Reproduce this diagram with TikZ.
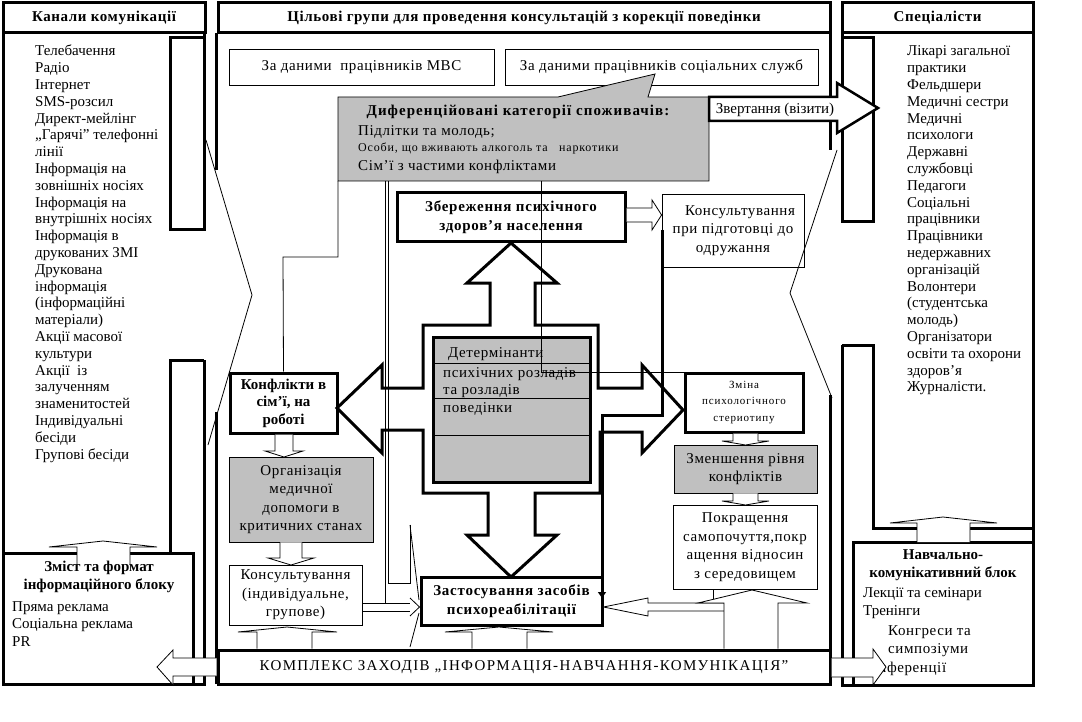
\documentclass[tikz,border=0pt]{standalone}
\usepackage{fontspec}
\setmainfont{Liberation Serif}
\usetikzlibrary{arrows.meta}
\definecolor{gry}{RGB}{192,192,192}
\newcommand\fz{\fontsize{15}{16.8}\selectfont}
\newcommand\fzw{\fontsize{15}{16.8}\selectfont\addfontfeatures{LetterSpace=4}}
\newcommand\fzm{\fontsize{15}{18.5}\selectfont\addfontfeatures{LetterSpace=4}}
\newcommand\fzh{\fontsize{15}{17.5}\selectfont\bfseries\addfontfeatures{LetterSpace=4}}
\newcommand\fzb{\fontsize{15}{19}\selectfont\bfseries\addfontfeatures{LetterSpace=5}}
\newcommand\fzk{\fontsize{15}{17.5}\selectfont\bfseries}
\newcommand\fzc{\fontsize{15}{17.5}\selectfont\bfseries\addfontfeatures{LetterSpace=7}}
\newcommand\fzs{\fontsize{12}{15}\selectfont\addfontfeatures{LetterSpace=7}}
\newcommand\fzt{\fontsize{11}{16.5}\selectfont\addfontfeatures{LetterSpace=8}}
\newcommand\fzK{\fontsize{15}{17}\selectfont\addfontfeatures{LetterSpace=9}}
\tikzset{
  thk/.style={line width=3pt},
  thn/.style={line width=0.8pt},
  box/.style={draw, line width=0.8pt, inner sep=0pt, align=center, font=\fzm},
  tbox/.style={box, line width=3pt},
  txt/.style={inner sep=0pt, align=left, font=\fz},
  btxt/.style={inner sep=0pt, align=center, font=\fzk},
}
\begin{document}
\begin{tikzpicture}[x=1pt,y=-1pt]
\useasboundingbox (0,0) rectangle (1082,722);
% ---------- left panel
\draw[thk] (204,230)--(204,33)--(3,33)--(3,684)--(204,684)--(204,360);
\draw[thk] (170,38) rectangle (204,230);
\draw[thk] (204,360)--(170,360)--(170,553);
\draw[thn] (206,140)--(252,295)--(208,445);
% ---------- middle panel borders
\draw[thk] (216,33)--(216,170);
\draw[thk] (216,412)--(216,684);
\draw[thk] (830,33)--(830,150);
\draw[thk] (830,395)--(830,684);
\draw[thn] (837,150)--(790,293)--(832,398);
% ---------- right panel
\draw[thk] (842,222)--(842,33)--(1033,33)--(1033,685)--(842,685)--(842,345);
\draw[thk] (842,38) rectangle (873,222);
\draw[thk] (842,345)--(873,345)--(873,528)--(1033,528);
% ---------- headers
\node[tbox, font=\fzh, minimum width=202, minimum height=30] (hL) at (104,18) {Канали комунікації};
\node[tbox, font=\fzh, minimum width=612, minimum height=30] (hM) at (524,18) {Цільові групи для проведення консультацій з корекції поведінки};
\node[tbox, font=\fzh, minimum width=191, minimum height=30] (hR) at (937.5,18) {Спеціалісти};
% ---------- left list
\node[txt, anchor=north west] (lcol) at (35,44) {\strut Телебачення\\ Радіо\\ Інтернет\\ SMS-розсил\\ Директ-мейлінг\\ „Гарячі” телефонні\\ лінії\\ Інформація на\\ зовнішніх носіях\\ Інформація на\\ внутрішніх носіях\\ Інформація в\\ друкованих ЗМІ\\ Друкована\\ інформація\\ (інформаційні\\ матеріали)\\ Акції масової\\ культури\\ Акції~ із\\ залученням\\ знаменитостей\\ Індивідуальні\\ бесіди\\ Групові бесіди};
% ---------- right list
\node[txt, anchor=north west] (rcol) at (907,44) {\strut Лікарі загальної\\ практики\\ Фельдшери\\ Медичні сестри\\ Медичні\\ психологи\\ Державні\\ службовці\\ Педагоги\\ Соціальні\\ працівники\\ Працівники\\ недержавних\\ організацій\\ Волонтери\\ (студентська\\ молодь)\\ Організатори\\ освіти та охорони\\ здоров’я\\ Журналісти.};
% ---------- bottom left box
\node[tbox, minimum width=190, minimum height=131] (zmist) at (98,618.5) {};
\draw[thn, fill=white] (77,565)--(77,547)--(49,547)--(103,541)--(157,547)--(130,547)--(130,565);
\node[btxt] (zmistT) at (99,577) {Зміст та формат\\ інформаційного блоку};
\node[txt, anchor=north west, font=\fontsize{15}{17.5}\selectfont] (zmistL) at (12,599) {\strut Пряма реклама\\ Соціальна реклама\\ PR};
% ---------- bottom right box
\node[tbox, minimum width=180, minimum height=143] (navch) at (943,613.5) {};
\draw[thn, fill=white] (917,542)--(917,523)--(890,523)--(943,517)--(997,523)--(970,523)--(970,542);
\node[btxt] (navchT) at (943,565) {Навчально-\\ комунікативний блок};
\node[txt, anchor=north west, font=\fontsize{15}{18}\selectfont] (navchL) at (863,585) {\strut Лекції та семінари\\ Тренінги};
\node[txt, anchor=north west, font=\fzm] (navchL2) at (888,622) {\strut Конгреси та\\ симпозіуми};
\node[txt, anchor=base west, font=\fzm] (navchL3) at (863,672) {конференції};
% ---------- middle top boxes
\node[box, minimum width=265, minimum height=36] (mvs) at (361.5,67) {За даними~ працівників МВС};
\node[box, minimum width=313, minimum height=36] (soc) at (661.5,67) {За даними працівників соціальних служб};
% callout
\draw[thn, fill=gry] (338,97)--(558,97)--(655,74)--(648,97)--(709,97)--(709,181)--(338,181)--cycle;
\node[inner sep=0pt, font=\fzc] (callT) at (518,112) {Диференційовані категорії споживачів:};
\node[txt, anchor=base west, font=\fzw] (call1) at (358,136) {Підлітки та молодь;};
\node[txt, anchor=base west, font=\fzs] (call2) at (358,152) {Особи, що вживають алкоголь та~~ наркотики};
\node[txt, anchor=base west, font=\fzw] (call3) at (358,171) {Сім’ї з частими конфліктами};
% Zvertannia arrow
\draw[line width=2.5pt, fill=white] (709,97)--(837,97)--(837,83)--(878,108)--(837,133)--(837,121)--(709,121)--cycle;
\node[txt] (zvT) at (775,110) {Звертання (візити)};
% ---------- central cross
\draw[thk] (511,243)--(557,283)--(535,283)--(535,325)--(598,325)--(598,388)--(642,388)--(642,365)--(683,410)--(642,453)--(642,432)--(600,432)--(600,493)--(535,493)--(535,535)--(557,535)--(511,577)--(467,535)--(488,535)--(488,493)--(423,493)--(423,430)--(382,430)--(382,453)--(337,408)--(382,365)--(382,388)--(423,388)--(423,325)--(490,325)--(490,283)--(467,283)--cycle;
\node[tbox, fill=gry, minimum width=157, minimum height=145] (det) at (511.5,409.5) {};
\draw[thn] (433,363)--(590,363) (433,398)--(590,398) (433,435)--(590,435);
\node[txt, anchor=base west, font=\fzw] (det1) at (448,357) {Детермінанти};
\node[txt, anchor=base west, font=\fzw] (det2) at (443,377) {психічних розладів};
\node[txt, anchor=base west, font=\fzw] (det3) at (443,394) {та розладів};
\node[txt, anchor=base west, font=\fzw] (det4) at (443,412) {поведінки};
% ---------- boxes
\node[tbox, font=\fzb, minimum width=228, minimum height=49] (zber) at (511,217.5) {Збереження психічного\\ здоров’я населення};
\node[box, minimum width=142, minimum height=73] (kons1) at (733,230.5) {\hspace*{14pt}Консультування\\ при підготовці до\\ одружання};
\node[tbox, font=\fzk, minimum width=107, minimum height=60] (konf) at (283.5,403) {Конфлікти в\\ сім’ї, на\\ роботі};
\node[box, fill=gry, minimum width=144, minimum height=85] (org) at (301,499.5) {Організація\\ медичної\\ допомоги в\\ критичних станах};
\node[box, minimum width=133, minimum height=60] (kons2) at (295.5,595) {Консультування\\ (індивідуальне,\\ групове)};
\node[tbox, font=\fzb, minimum width=181, minimum height=48] (zast) at (511.5,601) {Застосування засобів\\ психореабілітації};
\node[tbox, font=\fzt, minimum width=118, minimum height=59] (zmina) at (744,402.5) {Зміна\\ психологічного\\ стериотипу};
\node[box, fill=gry, minimum width=143, minimum height=48] (zmen) at (745.5,469) {Зменшення рівня\\ конфліктів};
\node[box, minimum width=144, minimum height=84] (pokr) at (745,547) {Покращення\\ самопочуття,покр\\ ащення відносин\\ з середовищем};
\node[tbox, minimum width=612, minimum height=34, font=\fzK] (kompl) at (524,667) {КОМПЛЕКС ЗАХОДІВ „ІНФОРМАЦІЯ-НАВЧАННЯ-КОМУНІКАЦІЯ”};
% ---------- small hollow arrows
\draw[thn, fill=white] (konf.south -| 275,0)--(275,451)--(265,451)--(284,457)--(303,451)--(293,451)--(konf.south -| 293,0);
\draw[thn, fill=white] (org.south -| 280,0)--(280,558)--(268,558)--(291,565)--(314,558)--(302,558)--(org.south -| 302,0);
\draw[thn, fill=white] (zmina.south -| 733,0)--(733,441)--(722,441)--(745.5,445)--(769,441)--(758,441)--(zmina.south -| 758,0);
\draw[thn, fill=white] (zmen.south -| 733,0)--(733,501)--(722,501)--(745.5,505)--(769,501)--(758,501)--(zmen.south -| 758,0);
\draw[thn, fill=white] (zber.east |- 0,208)--(652,208)--(652,200)--(kons1.west |- 0,215)--(652,230)--(652,222)--(zber.east |- 0,222);
% kons2 -> zast
\draw[thn] (kons2.east |- 0,603)--(410,603) (kons2.east |- 0,611)--(410,611);
\draw[thn] (410,598)--(zast.west |- 0,607)--(410,616);
\draw[thn] (410,525)--(419,600) (419,613)--(410,647);
% pokr -> zast (left arrow)
\draw[thn, fill=white] (725,603)--(648,603)--(648,598)--(zast.east |- 0,607)--(648,616)--(648,611)--(725,611);
\draw[thn] (713,589)--(713,603);
% up arrows from kompl
\draw[thn, fill=white] (kompl.north -| 257,0)--(257,632)--(238,632)--(287,627)--(337,632)--(312,632)--(kompl.north -| 312,0);
\draw[thn, fill=white] (kompl.north -| 472,0)--(472,632)--(445,632)--(499,627)--(553,632)--(527,632)--(kompl.north -| 527,0);
\draw[thn, fill=white] (kompl.north -| 724,0)--(724,603)--(698,603)--(752,590)--(807,603)--(778,603)--(kompl.north -| 778,0);
% kompl side arrows
\draw[thn, fill=white] (kompl.west |- 0,658)--(173,658)--(173,650)--(157,667)--(173,685)--(173,676)--(kompl.west |- 0,676);
\draw[thn, fill=white] (kompl.east |- 0,658)--(873,658)--(873,649)--(886,667)--(873,685)--(873,677)--(kompl.east |- 0,677);
% ---------- thin connectors from callout
\coordinate (c1) at (338,181);
\draw[thn] (c1)--(338,257)--(283,257)--(konf.north);
\draw[thn] (385,181)--(385,603);
\draw[thn] (388,181)--(388,583)--(410,583)--(410,525);
\draw[thn] (541,181)--(541,372)--(zmina.west |- 0,372);
% thick connector
\draw[thk, -{Triangle[length=6pt,width=8pt]}] (662,230)--(662,415)--(602,415)--(602,598);
\end{tikzpicture}
\end{document}
